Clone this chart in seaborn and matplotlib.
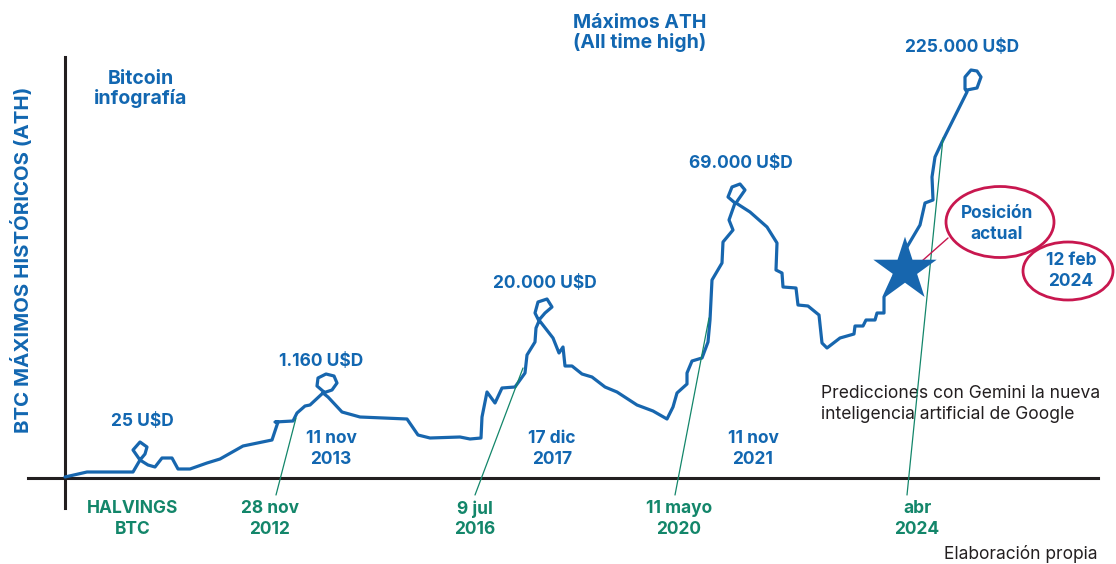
import numpy as np
import pandas as pd
import matplotlib.pyplot as plt
import seaborn as sns
from matplotlib.patches import Ellipse

# trazo de maximos: x = posicion horizontal, y = altura sobre el eje
path_x = [65, 87, 133, 140, 133, 140, 147, 145, 140, 148, 155, 162, 172, 178, 190, 207, 220, 243,
          272, 278, 275, 293, 297, 305, 310, 324, 317, 318, 326, 334, 337, 332, 323, 328, 342,
          360, 407, 418, 430, 460, 470, 481, 482, 487, 495, 502, 515, 525, 527, 535, 536, 539,
          535, 538, 547, 552, 545, 539, 553, 559, 563, 565, 572, 582, 592, 605, 617, 637, 653,
          667, 673, 677, 687, 687, 692, 702, 708, 710, 712, 722, 723, 733, 729, 735,
          728, 732, 740, 745, 738, 736, 750, 767, 777, 776, 782, 783, 796, 798, 808, 819, 822,
          827, 840, 854, 855, 863, 866, 875, 877, 884, 884, 907, 920, 925, 933, 932, 935, 942,
          967, 965, 965, 971, 977, 981, 977, 967]
path_y = [1, 6, 6, 18, 28, 36, 31, 24, 18, 13, 11, 20, 20, 9, 9, 15, 19, 32,
          38, 56, 56, 57, 65, 72, 73, 86, 92, 100, 104, 102, 95, 88, 85, 81, 66,
          61, 59, 43, 40, 41, 39, 40, 61, 86, 75, 90, 91, 105, 123, 136, 150, 157,
          165, 176, 179, 171, 165, 158, 140, 125, 131, 112, 112, 104, 101, 91, 86, 73, 67,
          59, 71, 85, 94, 105, 117, 120, 136, 158, 198, 215, 236, 248, 258, 275,
          281, 291, 294, 288, 278, 275, 266, 251, 235, 208, 205, 191, 190, 173, 172, 163, 135,
          130, 140, 144, 152, 152, 158, 158, 165, 165, 181, 231, 253, 275, 278, 301, 321, 336,
          386, 389, 401, 408, 407, 401, 390, 388]

star_x = [905]
star_y = [208]

peak_labels = ["25 U$D", "1.160 U$D", "20.000 U$D", "69.000 U$D", "225.000 U$D"]
peak_x = [142, 321, 545, 741, 962]
peak_y = [56, 117, 194, 315, 430]

ath_labels = ["11 nov\n2013", "17 dic\n2017", "11 nov\n2021"]
ath_x = [331, 552, 753]

halving_labels = ["HALVINGS\nBTC", "28 nov\n2012", "9 jul\n2016", "11 mayo\n2020", "abr\n2024"]
halving_x = [133, 270, 475, 679, 917]
# lineas verdes de los halvings (inicio y fin)
hl_x0 = [276, 475, 675, 907]
hl_y0 = [-17, -17, -17, -17]
hl_x1 = [296, 523, 709, 943]
hl_y1 = [60, 110, 160, 340]

blue = "#1267b1"
line_blue = "#1766ae"
green = "#13866a"
crimson = "#c8174f"
dark = "#231f20"

sns.set_theme(style="white")
plt.rcParams['font.family'] = ['Inter', 'DejaVu Sans']

fig = plt.figure(figsize=(11.16, 5.64), dpi=100)
ax = fig.add_axes([0, 0, 1, 1])

df = pd.DataFrame({"x": path_x, "y": path_y})
sns.lineplot(data=df, x="x", y="y", sort=False, estimator=None, color=line_blue,
             linewidth=2.3, ax=ax, zorder=3)
ax.lines[-1].set_solid_joinstyle("round")

for x0, y0, x1, y1 in zip(hl_x0, hl_y0, hl_x1, hl_y1):
    ax.plot([x0, x1], [y0, y1], color=green, linewidth=0.9, zorder=4)

sns.scatterplot(x=star_x, y=star_y, marker="*", s=2300, color=line_blue,
                edgecolor="none", ax=ax, zorder=5, legend=False)

# globos de posicion actual
ax.plot([922, 948], [217, 240], color=crimson, linewidth=1.0, zorder=4)
ax.add_patch(Ellipse((1000, 256), 108, 71, fc="white", ec=crimson, lw=2, zorder=6))
ax.add_patch(Ellipse((1068, 207), 90, 58, fc="white", ec=crimson, lw=2, zorder=6))

ax.set_xlim(0, 1116)
ax.set_ylim(-86, 478)
ax.set_xticks([])
ax.set_yticks([])
ax.set_xlabel("")
ax.set_ylabel("")
for s in ["top", "right"]:
    ax.spines[s].set_visible(False)
ax.spines["left"].set_position(("data", 65))
ax.spines["left"].set_bounds(-30, 421)
ax.spines["bottom"].set_position(("data", 0))
ax.spines["bottom"].set_bounds(28, 1098)
for s in ["left", "bottom"]:
    ax.spines[s].set_color(dark)
    ax.spines[s].set_linewidth(2.2)
    ax.spines[s].set_zorder(2)

bold = dict(fontsize=12.5, fontweight="bold", ha="center", va="center", linespacing=1.25)
big = dict(bold, fontsize=14, linespacing=1.1)

ax.text(640, 445, "Máximos ATH\n(All time high)", color=blue, **big)
ax.text(141, 389, "Bitcoin\ninfografía", color=blue, **big)
ax.text(22, 218, "BTC MÁXIMOS HISTÓRICOS (ATH)", color=blue, rotation=90,
        **dict(big, fontsize=14.7))

for lab, x, y in zip(peak_labels, peak_x, peak_y):
    ax.text(x, y, lab, color=blue, **bold)
for lab, x in zip(ath_labels, ath_x):
    ax.text(x, 29, lab, color=blue, **bold)
for lab, x in zip(halving_labels, halving_x):
    ax.text(x, -41, lab, color=green, **bold)

ax.text(997, 254, "Posición\nactual", color=blue, zorder=7, **bold)
ax.text(1071, 207, "12 feb\n2024", color=blue, zorder=7, **bold)

ax.text(821, 74, "Predicciones con Gemini la nueva\ninteligencia artificial de Google",
        color=dark, fontsize=12.6, ha="left", va="center", linespacing=1.3)
ax.text(1098, -76, "Elaboración propia", color=dark, fontsize=12.5, ha="right", va="center")

fig.savefig("out.png", dpi=100, facecolor="white")
